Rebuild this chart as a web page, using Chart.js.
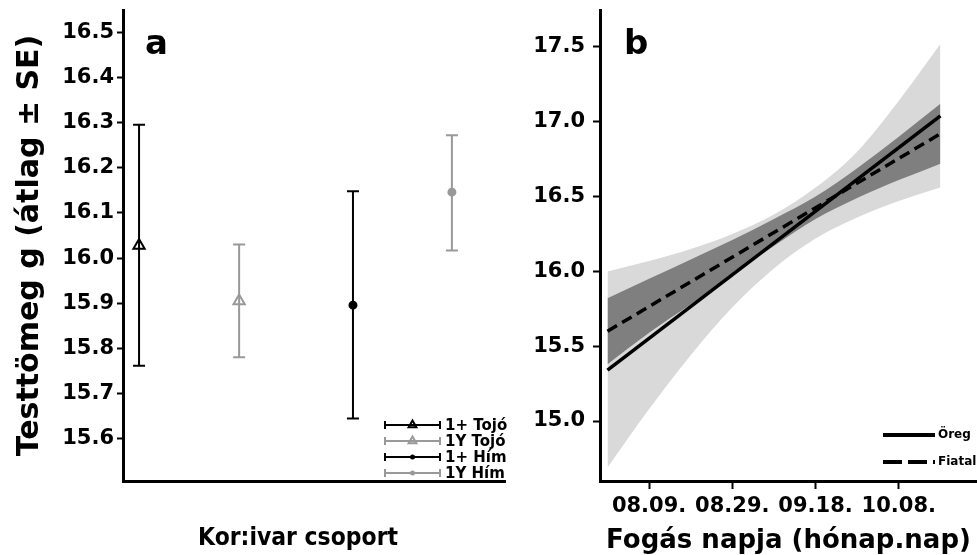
<!DOCTYPE html>
<html>
<head>
<meta charset="utf-8">
<script src="https://cdn.jsdelivr.net/npm/chart.js@4.4.1/dist/chart.umd.min.js"></script>
<style>
  body { margin: 0; background: #fff; }
  #panelA { position: absolute; left: 0; top: 0; width: 520px; height: 555px; }
  #panelB { position: absolute; left: 520px; top: 0; width: 457px; height: 555px; }
</style>
</head>
<body>
<div id="panelA"><canvas id="chartA"></canvas></div>
<div id="panelB"><canvas id="chartB"></canvas></div>
<script>
const FONT = "'DejaVu Sans', Verdana, sans-serif";

// panel a: body mass by age/sex group (mean ± SE)
const groupNames = ['1+ Tojó', '1Y Tojó', '1+ Hím', '1Y Hím'];
const groupPos = [0.42, 3.04, 6.02, 8.61];
const groupMean = [16.028, 15.905, 15.896, 16.146];
const groupUpper = [16.295, 16.030, 16.148, 16.272];
const groupLower = [15.762, 15.781, 15.645, 16.017];
const groupColor = ['#000000', '#999999', '#000000', '#999999'];
const groupMarker = ['triangle', 'triangle', 'circle', 'circle'];
const massTicksA = [15.6, 15.7, 15.8, 15.9, 16.0, 16.1, 16.2, 16.3, 16.4, 16.5];

// panel b: fitted mass vs capture date, with confidence bands
const bandDays = [-10, 0, 10, 20, 30, 40, 50, 60, 70];
const oregUpper = [16.00, 16.07, 16.15, 16.25, 16.38, 16.56, 16.80, 17.14, 17.52];
const oregLower = [14.69, 15.08, 15.44, 15.76, 16.02, 16.22, 16.36, 16.47, 16.56];
const fiatalUpper = [15.82, 15.95, 16.08, 16.21, 16.35, 16.50, 16.69, 16.90, 17.12];
const fiatalLower = [15.38, 15.59, 15.78, 15.98, 16.17, 16.35, 16.49, 16.61, 16.72];
const lineDays = [-10, 70];
const oregLine = [15.34, 17.04];
const fiatalLine = [15.60, 16.92];
const dateTickDays = [0, 20, 40, 60];
const dateTickLabels = ['08.09.', '08.29.', '09.18.', '10.08.'];
const massTicksB = [15.0, 15.5, 16.0, 16.5, 17.0, 17.5];

const tickFont = { family: FONT, size: 21, weight: 'bold' };

function drawMarker(ctx, style, x, y, r) {
    ctx.beginPath();
    if (style === 'triangle') {
        for (let k = 0; k < 3; k++) {
            const ang = k * 2 * Math.PI / 3;
            const px = x + Math.sin(ang) * r;
            const py = y - Math.cos(ang) * r;
            if (k === 0) ctx.moveTo(px, py); else ctx.lineTo(px, py);
        }
        ctx.closePath();
        ctx.stroke();
    } else {
        ctx.arc(x, y, r, 0, Math.PI * 2);
        ctx.fill();
    }
}

// keep the plot area where the axes are, no label padding
function fixVertical(width) {
    return s => { s.width = width; s.paddingTop = 0; s.paddingBottom = 0; };
}
function fixHorizontal(height) {
    return s => { s.height = height; s.paddingLeft = 0; s.paddingRight = 0; };
}

// error bars, legend, axis title and panel letter for panel a
const groupExtras = {
    id: 'groupExtras',
    beforeDatasetsDraw(chart) {
        const { ctx, scales: { x, y } } = chart;
        ctx.save();
        ctx.lineWidth = 2;
        groupPos.forEach((g, i) => {
            const px = x.getPixelForValue(g);
            const top = y.getPixelForValue(groupUpper[i]);
            const bot = y.getPixelForValue(groupLower[i]);
            ctx.strokeStyle = groupColor[i];
            ctx.beginPath();
            ctx.moveTo(px, top); ctx.lineTo(px, bot);
            ctx.moveTo(px - 6, top); ctx.lineTo(px + 6, top);
            ctx.moveTo(px - 6, bot); ctx.lineTo(px + 6, bot);
            ctx.stroke();
        });
        ctx.restore();
    },
    afterDraw(chart) {
        const { ctx, chartArea: area } = chart;
        ctx.save();
        ctx.fillStyle = '#000';
        ctx.font = 'bold 34px ' + FONT;
        ctx.textBaseline = 'alphabetic';
        ctx.fillText('a', area.left + 22, 54);

        // axis title, a bit narrow like the original
        ctx.font = 'bold 24px ' + FONT;
        ctx.textAlign = 'center';
        ctx.textBaseline = 'middle';
        ctx.fillText('Kor:ivar csoport', 298, 539, 200);
        ctx.textAlign = 'left';

        // legend, bottom right
        ctx.font = 'bold 15px ' + FONT;
        groupNames.forEach((name, i) => {
            const yy = area.bottom - 56 + i * 16;
            const x0 = area.right - 120, x1 = area.right - 65;
            ctx.strokeStyle = groupColor[i];
            ctx.fillStyle = groupColor[i];
            ctx.lineWidth = 2;
            ctx.beginPath();
            ctx.moveTo(x0, yy); ctx.lineTo(x1, yy);
            ctx.moveTo(x0, yy - 4); ctx.lineTo(x0, yy + 4);
            ctx.moveTo(x1, yy - 4); ctx.lineTo(x1, yy + 4);
            ctx.stroke();
            drawMarker(ctx, groupMarker[i], (x0 + x1) / 2, yy, groupMarker[i] === 'triangle' ? 4.5 : 2.5);
            ctx.fillStyle = '#000';
            ctx.fillText(name, x1 + 5, yy + 1);
        });
        ctx.restore();
    }
};

new Chart(document.getElementById('chartA'), {
    type: 'scatter',
    data: {
        datasets: groupNames.map((name, i) => ({
            label: name,
            data: [{ x: groupPos[i], y: groupMean[i] }],
            pointStyle: groupMarker[i],
            pointRadius: groupMarker[i] === 'triangle' ? 6.5 : 3.5,
            pointBorderWidth: 2,
            borderColor: groupColor[i],
            backgroundColor: groupMarker[i] === 'triangle' ? 'rgba(0,0,0,0)' : groupColor[i]
        }))
    },
    options: {
        responsive: true,
        maintainAspectRatio: false,
        animation: false,
        layout: { padding: { top: 10, right: 15, left: 0, bottom: 0 } },
        plugins: { legend: { display: false }, tooltip: { enabled: false } },
        scales: {
            x: {
                type: 'linear', min: 0, max: 10,
                ticks: { display: false },
                grid: { display: true, drawOnChartArea: false, drawTicks: false },
                border: { display: true, color: '#000', width: 3 },
                afterFit: fixHorizontal(74)
            },
            y: {
                min: 15.507, max: 16.549,
                afterBuildTicks: s => { s.ticks = massTicksA.map(v => ({ value: v })); },
                ticks: { font: tickFont, color: '#000', padding: 3, callback: v => v.toFixed(1) },
                grid: { display: true, drawOnChartArea: false, tickLength: 6, tickWidth: 2, tickColor: '#000' },
                border: { display: true, color: '#000', width: 3 },
                title: { display: true, text: 'Testtömeg g (átlag ± SE)', font: { family: FONT, size: 30, weight: 'bold' }, color: '#000', padding: { top: 12, bottom: 0 } },
                afterFit: fixVertical(123)
            }
        }
    },
    plugins: [groupExtras]
});

// legend + panel letter for panel b
const dateExtras = {
    id: 'dateExtras',
    afterDraw(chart) {
        const { ctx, chartArea: area } = chart;
        ctx.save();
        ctx.font = 'bold 34px ' + FONT;
        ctx.fillStyle = '#000';
        ctx.fillText('b', area.left + 24, 54);

        const x0 = area.right - 94, x1 = area.right - 42;
        ctx.strokeStyle = '#000';
        ctx.lineWidth = 4;
        ctx.beginPath();
        ctx.moveTo(x0, area.bottom - 46); ctx.lineTo(x1, area.bottom - 46);
        ctx.stroke();
        ctx.setLineDash([19, 6]);
        ctx.beginPath();
        ctx.moveTo(x0, area.bottom - 19); ctx.lineTo(x1, area.bottom - 19);
        ctx.stroke();
        ctx.setLineDash([]);
        ctx.font = 'bold 12px ' + FONT;
        ctx.textBaseline = 'middle';
        ctx.fillText('Öreg', x1 + 3, area.bottom - 46);
        ctx.fillText('Fiatal', x1 + 3, area.bottom - 19);
        ctx.restore();
    }
};

const toPoints = (xs, ys) => xs.map((d, i) => ({ x: d, y: ys[i] }));
const bandStyle = { borderColor: 'rgba(0,0,0,0)', borderWidth: 0, pointRadius: 0, cubicInterpolationMode: 'monotone' };

new Chart(document.getElementById('chartB'), {
    type: 'line',
    data: {
        datasets: [
            { label: 'Öreg felső', data: toPoints(bandDays, oregUpper), fill: '+1', backgroundColor: '#d9d9d9', order: 3, ...bandStyle },
            { label: 'Öreg alsó', data: toPoints(bandDays, oregLower), fill: false, order: 3, ...bandStyle },
            { label: 'Fiatal felső', data: toPoints(bandDays, fiatalUpper), fill: '+1', backgroundColor: '#7f7f7f', order: 2, ...bandStyle },
            { label: 'Fiatal alsó', data: toPoints(bandDays, fiatalLower), fill: false, order: 2, ...bandStyle },
            { label: 'Öreg', data: toPoints(lineDays, oregLine), borderColor: '#000', borderWidth: 3.5, pointRadius: 0, fill: false, order: 1 },
            { label: 'Fiatal', data: toPoints(lineDays, fiatalLine), borderColor: '#000', borderWidth: 3.5, borderDash: [11, 6], pointRadius: 0, fill: false, order: 0 }
        ]
    },
    options: {
        responsive: true,
        maintainAspectRatio: false,
        animation: false,
        layout: { padding: { top: 10, right: 0, left: 0, bottom: 0 } },
        plugins: { legend: { display: false }, tooltip: { enabled: false } },
        scales: {
            x: {
                type: 'linear', min: -11.8, max: 78.8,
                afterBuildTicks: s => { s.ticks = dateTickDays.map(v => ({ value: v })); },
                ticks: { font: tickFont, color: '#000', padding: 5, maxRotation: 0, autoSkip: false, callback: (v, i) => dateTickLabels[i] },
                grid: { display: true, drawOnChartArea: false, tickLength: 8, tickWidth: 2, tickColor: '#000' },
                border: { display: true, color: '#000', width: 3 },
                title: { display: true, text: 'Fogás napja (hónap.nap)', font: { family: FONT, size: 26, weight: 'bold' }, color: '#000', padding: { top: 0, bottom: -2 } },
                afterFit: fixHorizontal(74)
            },
            y: {
                min: 14.599, max: 17.747,
                afterBuildTicks: s => { s.ticks = massTicksB.map(v => ({ value: v })); },
                ticks: { font: tickFont, color: '#000', padding: 8, callback: v => v.toFixed(1) },
                grid: { display: true, drawOnChartArea: false, tickLength: 7, tickWidth: 2, tickColor: '#000' },
                border: { display: true, color: '#000', width: 3 },
                afterFit: fixVertical(80)
            }
        }
    },
    plugins: [dateExtras]
});
</script>
</body>
</html>
